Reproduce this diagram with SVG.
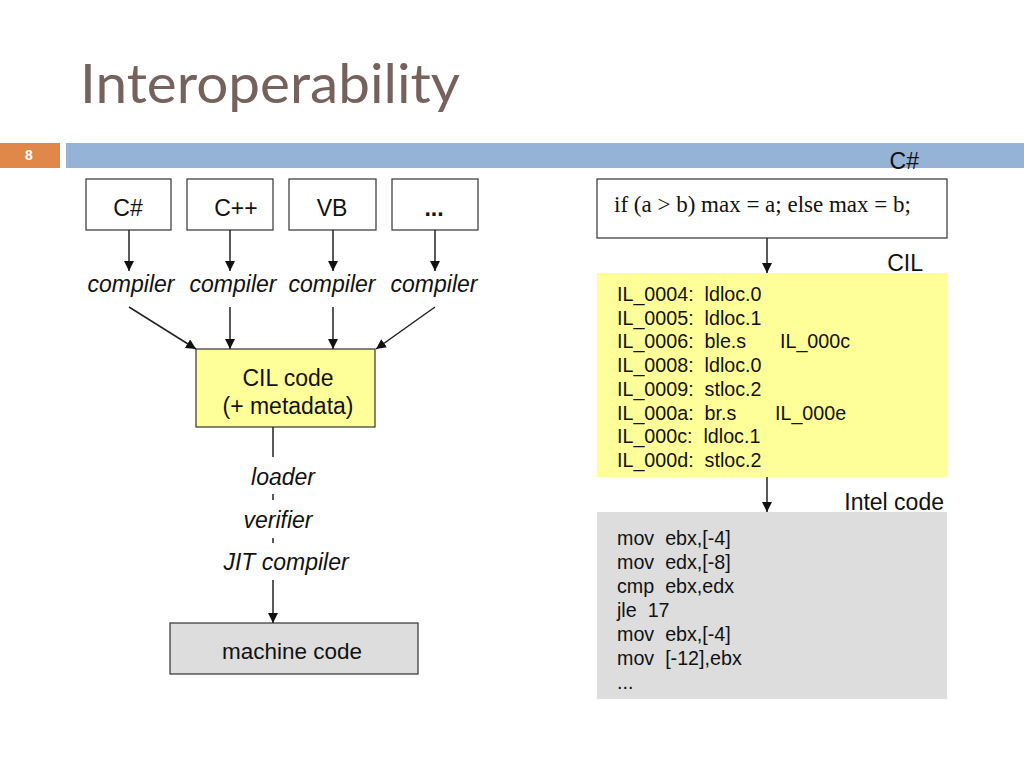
<svg xmlns="http://www.w3.org/2000/svg" width="1024" height="768" viewBox="0 0 1024 768">
<defs>
<marker id="ah" viewBox="0 0 10 10" refX="10" refY="5" markerWidth="10" markerHeight="10" markerUnits="userSpaceOnUse" orient="auto"><path d="M0,0 L10,5 L0,10 z" fill="#111"/></marker>
<style>
.t{font-family:"Liberation Sans",Arial,sans-serif;fill:#111}
.box{stroke:#333;stroke-width:1.2}
.ln{stroke:#222;stroke-width:1.5;fill:none}
.it{font-style:italic;font-size:23px}
.lb{font-size:23px}
.code{font-size:19.7px;white-space:pre}
</style>
</defs>
<rect width="1024" height="768" fill="#fff"/>
<text x="80" y="103" font-family="Lato,'Open Sans',sans-serif" font-size="54" fill="#76625C" textLength="380" lengthAdjust="spacingAndGlyphs">Interoperability</text>
<rect x="0" y="143" width="60" height="25" fill="#E0884A"/>
<text x="29" y="160" font-family="'Liberation Sans',Arial,sans-serif" font-size="14" font-weight="bold" fill="#fff" text-anchor="middle">8</text>
<rect x="66" y="143" width="958" height="25" fill="#95B3D7"/>

<g id="n-cs"><rect class="box" x="86" y="179" width="85" height="51" fill="#fff"/><text class="t lb" x="128" y="216" text-anchor="middle">C#</text></g>
<g id="n-cpp"><rect class="box" x="187" y="179" width="86" height="51" fill="#fff"/><text class="t lb" x="236" y="216" text-anchor="middle">C++</text></g>
<g id="n-vb"><rect class="box" x="289" y="179" width="87" height="51" fill="#fff"/><text class="t lb" x="332" y="216" text-anchor="middle">VB</text></g>
<g id="n-etc"><rect class="box" x="392" y="179" width="86" height="51" fill="#fff"/><text class="t lb" x="434" y="216" font-weight="bold" text-anchor="middle">...</text></g>

<g id="labels-compiler">
<text class="t it" x="131" y="292" text-anchor="middle">compiler</text>
<text class="t it" x="233" y="292" text-anchor="middle">compiler</text>
<text class="t it" x="332" y="292" text-anchor="middle">compiler</text>
<text class="t it" x="434" y="292" text-anchor="middle">compiler</text>
</g>

<g id="n-cil"><rect class="box" x="196" y="349" width="179" height="78" fill="#FFFF99"/><text class="t lb" x="288" y="386" text-anchor="middle">CIL code</text><text class="t lb" x="288" y="414" text-anchor="middle">(+ metadata)</text></g>

<g id="n-jitlabels">
<text class="t it" x="283" y="485" text-anchor="middle">loader</text>
<text class="t it" x="278" y="528" text-anchor="middle">verifier</text>
<text class="t it" x="286" y="570" text-anchor="middle">JIT compiler</text>
</g>

<g id="n-machine"><rect class="box" x="170" y="623" width="248" height="51" fill="#DDDDDD"/><text class="t" x="292" y="659" font-size="22.5" text-anchor="middle">machine code</text></g>

<g id="n-csharp-src">
<text class="t lb" x="919" y="169" text-anchor="end">C#</text>
<rect class="box" x="597" y="179" width="350" height="59" fill="#fff"/>
<text x="614" y="212" font-family="'Liberation Serif','Times New Roman',serif" font-size="23" fill="#111">if (a &gt; b) max = a; else max = b;</text>
</g>

<g id="n-cil-src">
<text class="t lb" x="923" y="271" text-anchor="end">CIL</text>
<rect x="597" y="273" width="350" height="204" fill="#FFFF99"/>
<text class="t code" xml:space="preserve" x="617" y="301">IL_0004:  ldloc.0</text>
<text class="t code" xml:space="preserve" x="617" y="325">IL_0005:  ldloc.1</text>
<text class="t code" xml:space="preserve" x="617" y="348">IL_0006:  ble.s</text>
<text class="t code" x="780" y="348">IL_000c</text>
<text class="t code" xml:space="preserve" x="617" y="372">IL_0008:  ldloc.0</text>
<text class="t code" xml:space="preserve" x="617" y="396">IL_0009:  stloc.2</text>
<text class="t code" xml:space="preserve" x="617" y="420">IL_000a:  br.s</text>
<text class="t code" x="775" y="420">IL_000e</text>
<text class="t code" xml:space="preserve" x="617" y="443">IL_000c:  ldloc.1</text>
<text class="t code" xml:space="preserve" x="617" y="467">IL_000d:  stloc.2</text>
</g>

<g id="n-intel">
<text class="t lb" x="944" y="510" text-anchor="end">Intel code</text>
<rect x="597" y="512" width="350" height="187" fill="#DDDDDD"/>
<text class="t code" xml:space="preserve" x="617" y="545">mov  ebx,[-4]</text>
<text class="t code" xml:space="preserve" x="617" y="569">mov  edx,[-8]</text>
<text class="t code" xml:space="preserve" x="617" y="593">cmp  ebx,edx</text>
<text class="t code" xml:space="preserve" x="617" y="617">jle  17</text>
<text class="t code" xml:space="preserve" x="617" y="641">mov  ebx,[-4]</text>
<text class="t code" xml:space="preserve" x="617" y="665">mov  [-12],ebx</text>
<text class="t code" x="617" y="689">...</text>
</g>

<g id="connectors">
<line class="ln" x1="129" y1="230" x2="129" y2="271" marker-end="url(#ah)"/>
<line class="ln" x1="230" y1="230" x2="230" y2="271" marker-end="url(#ah)"/>
<line class="ln" x1="333" y1="230" x2="333" y2="271" marker-end="url(#ah)"/>
<line class="ln" x1="435" y1="230" x2="435" y2="271" marker-end="url(#ah)"/>
<line class="ln" x1="129" y1="307" x2="196" y2="349" marker-end="url(#ah)"/>
<line class="ln" x1="230" y1="307" x2="230" y2="349" marker-end="url(#ah)"/>
<line class="ln" x1="333" y1="307" x2="333" y2="349" marker-end="url(#ah)"/>
<line class="ln" x1="435" y1="307" x2="376" y2="349" marker-end="url(#ah)"/>
<line class="ln" x1="273" y1="427" x2="273" y2="457"/>
<line class="ln" x1="273" y1="494" x2="273" y2="500"/>
<line class="ln" x1="273" y1="538" x2="273" y2="543"/>
<line class="ln" x1="273" y1="580" x2="273" y2="623" marker-end="url(#ah)"/>
<line class="ln" x1="767" y1="238" x2="767" y2="273" marker-end="url(#ah)"/>
<line class="ln" x1="767" y1="477" x2="767" y2="512" marker-end="url(#ah)"/>
</g>
</svg>
